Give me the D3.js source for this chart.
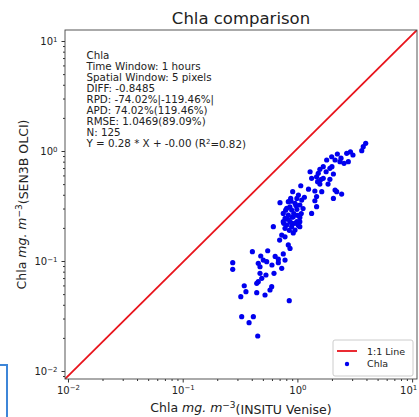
<!DOCTYPE html>
<html lang="en">

<head>
    <meta charset="utf-8" />
    <title>Chla comparison</title>
    <script src="https://cdn.jsdelivr.net/npm/d3@7"></script>
    <style>
        body { margin: 0; background: #fff; }
        text { font-family: "DejaVu Sans", sans-serif; fill: #222; }
    </style>
</head>

<body>
    <div id='chart'></div>
</body>
<script>

    // values (INSITU Venise vs SEN3B OLCI, mg.m-3)
    let insituChla = [
        3.94, 3.75, 3.64, 3.05, 2.69, 2.23, 1.99, 1.80, 2.13, 2.35,
        2.78, 2.55, 1.68, 1.92, 1.57, 1.78, 1.29, 1.52, 2.06, 1.47,
        1.68, 1.92, 1.50, 1.33, 1.57, 1.07, 1.42, 1.63, 2.13, 2.20,
        2.43, 0.91, 1.02, 1.47, 2.06, 0.99, 0.874, 1.09, 1.42, 0.705,
        0.833, 0.953, 1.05, 1.47, 0.807, 0.891, 0.99, 1.33, 0.753, 0.833,
        0.92, 1.05, 0.78, 0.862, 0.99, 0.617, 0.807, 0.891, 1.05, 0.753,
        0.891, 1.05, 0.78, 0.953, 0.73, 0.78, 0.833, 0.862, 0.405, 0.551,
        0.479, 0.753, 0.504, 0.682, 0.78, 0.456, 0.54, 0.682, 0.273, 0.273,
        0.472, 0.73, 0.472, 0.532, 0.625, 0.489, 0.456, 0.442, 0.344, 0.597,
        0.577, 0.356, 0.442, 0.522, 0.321, 0.849, 0.327, 0.413, 0.379, 0.451,
        0.86, 0.93, 1.00, 0.82, 0.95, 0.88, 1.12, 0.97, 0.79, 0.90,
        1.08, 0.85, 0.92, 1.02, 0.76, 1.25, 1.60, 2.00, 2.40, 1.85,
        1.15, 0.70, 0.64, 0.60, 2.90
    ];
    let sen3bChla = [
        1.175, 1.094, 1.006, 0.92, 0.953, 0.939, 0.887, 0.828, 0.828, 0.80,
        0.80, 0.773, 0.72, 0.696, 0.682, 0.648, 0.648, 0.627, 0.618, 0.583,
        0.565, 0.553, 0.526, 0.565, 0.50, 0.483, 0.433, 0.427, 0.442, 0.427,
        0.406, 0.427, 0.398, 0.385, 0.371, 0.371, 0.371, 0.358, 0.353, 0.339,
        0.346, 0.335, 0.323, 0.312, 0.301, 0.291, 0.295, 0.271, 0.271, 0.262,
        0.253, 0.249, 0.244, 0.228, 0.228, 0.205, 0.212, 0.205, 0.205, 0.228,
        0.220, 0.228, 0.198, 0.191, 0.172, 0.166, 0.14, 0.130, 0.1215, 0.124,
        0.111, 0.116, 0.102, 0.104, 0.102, 0.0953, 0.0986, 0.0965, 0.0965, 0.084,
        0.0887, 0.0858, 0.0773, 0.0746, 0.0773, 0.0696, 0.0649, 0.0627, 0.0596, 0.0584,
        0.0545, 0.0526, 0.0515, 0.0491, 0.0474, 0.0436, 0.0312, 0.0312, 0.0275, 0.0208,
        0.31, 0.27, 0.26, 0.24, 0.22, 0.35, 0.30, 0.32, 0.29, 0.25,
        0.27, 0.19, 0.18, 0.21, 0.22, 0.45, 0.55, 0.72, 0.86, 0.50,
        0.38, 0.155, 0.11, 0.092, 0.98
    ];

    let xDomain = [0.00942, 11.03],
        yDomain = [0.00846, 12.59];
    let majorTicks = [0.01, 0.1, 1, 10],
        majorExp = ['\u22122', '\u22121', '0', '1'];

    let statLines = [
        'Chla',
        'Time Window: 1 hours',
        'Spatial Window: 5 pixels',
        'DIFF: -0.8485',
        'RPD: -74.02%|-119.46%|',
        'APD: 74.02%(119.46%)',
        'RMSE: 1.0469(89.09%)',
        'N: 125'
    ];

    let margin = { top: 30, bottom: 38, left: 65, right: 2 };
    let width = 419 - margin.left - margin.right,
        height = 417 - margin.top - margin.bottom;

    let svg = d3.select('#chart')
        .append('svg')
        .attr('width', 419)
        .attr('height', 417);

    let x = d3.scaleLog().domain(xDomain).range([0, width]);
    let y = d3.scaleLog().domain(yDomain).range([height, 0]);

    // minor ticks 2..9 per decade
    let minorTicks = [];
    [0.001, 0.01, 0.1, 1, 10].forEach(dec => {
        for (let k = 2; k <= 9; k++) minorTicks.push(dec * k);
    });
    let minorX = minorTicks.filter(v => v > xDomain[0] && v < xDomain[1]),
        minorY = minorTicks.filter(v => v > yDomain[0] && v < yDomain[1]);

    var g = svg.append('g')
        .attr('transform', 'translate(' + margin.left + ',' + margin.top + ')');

    function powLabels(sel) {
        sel.selectAll('.tick text').each(function (d, i) {
            let t = d3.select(this).text('');
            t.append('tspan').text('10');
            t.append('tspan')
                .attr('dy', '-0.45em')
                .attr('font-size', '7px')
                .text(majorExp[majorTicks.indexOf(d)]);
        });
        sel.selectAll('.tick text')
            .style('font-family', '"DejaVu Sans", sans-serif')
            .attr('fill', '#333')
            .attr('font-size', '10px');
        sel.select('.domain').remove();
        sel.selectAll('.tick line').attr('stroke', '#333');
    }

    var gx = g.append('g')
        .attr('transform', 'translate(0,' + height + ')')
        .call(d3.axisBottom(x).tickValues(majorTicks).tickSize(3.5).tickPadding(4).tickFormat(''))
        .call(powLabels);
    // last label sits against the right edge of the picture
    gx.selectAll('.tick text').filter(d => d === 10).attr('dx', -4);
    g.append('g')
        .attr('transform', 'translate(0,' + height + ')')
        .call(d3.axisBottom(x).tickValues(minorX).tickSize(2).tickFormat(''))
        .call(s => { s.select('.domain').remove(); s.selectAll('line').attr('stroke', '#333'); });

    var gy = g.append('g')
        .call(d3.axisLeft(y).tickValues(majorTicks).tickSize(3.5).tickPadding(4).tickFormat(''))
        .call(powLabels);
    g.append('g')
        .call(d3.axisLeft(y).tickValues(minorY).tickSize(2).tickFormat(''))
        .call(s => { s.select('.domain').remove(); s.selectAll('line').attr('stroke', '#333'); });

    g.append('clipPath').attr('id', 'clip')
        .append('rect').attr('width', width).attr('height', height);

    // 1:1 line, corner to corner of the axes
    g.append('line')
        .attr('clip-path', 'url(#clip)')
        .attr('x1', x(xDomain[0])).attr('y1', y(yDomain[0]))
        .attr('x2', x(xDomain[1])).attr('y2', y(yDomain[1]))
        .attr('stroke', '#e8141c')
        .attr('stroke-width', 1.8);

    g.selectAll('.dot')
        .data(insituChla.map((v, i) => ({ x: v, y: sen3bChla[i] })))
        .enter().append('circle')
        .attr('class', 'dot')
        .attr('r', 2.6)
        .attr('cx', d => x(d.x))
        .attr('cy', d => y(d.y))
        .style('fill', '#0000ee');

    // frame
    g.append('rect')
        .attr('width', width).attr('height', height)
        .attr('fill', 'none')
        .attr('stroke', '#444')
        .attr('stroke-width', 0.9);

    // stats text
    var stats = g.append('text')
        .attr('font-size', '10.3px')
        .attr('fill', '#222');
    statLines.forEach((s, i) => {
        stats.append('tspan').attr('x', 21.5).attr('y', 29 + i * 11).text(s);
    });
    stats.append('tspan').attr('x', 21.5).attr('y', 29 + 8 * 11).text('Y = 0.28 * X + -0.00 (R');
    stats.append('tspan').attr('dy', '-0.4em').attr('font-size', '7px').text('2');
    stats.append('tspan').attr('dy', '0.4em').text('=0.82)');

    // legend
    var lg = g.append('g').attr('transform', 'translate(' + (width - 84) + ',' + (height - 39) + ')');
    lg.append('rect')
        .attr('width', 80).attr('height', 36).attr('rx', 2)
        .attr('fill', '#fff').attr('fill-opacity', 0.8)
        .attr('stroke', '#ccc');
    lg.append('line')
        .attr('x1', 4).attr('x2', 24).attr('y1', 11).attr('y2', 11)
        .attr('stroke', '#e8141c').attr('stroke-width', 1.8);
    lg.append('text').attr('x', 34).attr('y', 14.5).attr('font-size', '9.5px').text('1:1 Line');
    lg.append('circle').attr('cx', 14).attr('cy', 24).attr('r', 2.2).style('fill', '#0000ee');
    lg.append('text').attr('x', 34).attr('y', 27).attr('font-size', '9.5px').text('Chla');

    // title
    svg.append('text')
        .attr('x', margin.left + width / 2)
        .attr('y', 24)
        .attr('text-anchor', 'middle')
        .attr('font-size', '16.5px')
        .text('Chla comparison');

    // axis labels
    var xl = svg.append('text')
        .attr('x', margin.left + width / 2)
        .attr('y', 412)
        .attr('text-anchor', 'middle')
        .attr('font-size', '12.5px');
    xl.append('tspan').text('Chla ');
    xl.append('tspan').attr('font-style', 'italic').text('mg. m');
    xl.append('tspan').attr('dy', '-0.45em').attr('font-size', '9px').text('\u22123');
    xl.append('tspan').attr('dy', '0.45em').text('(INSITU Venise)');

    var yl = svg.append('text')
        .attr('transform', 'translate(26,' + (margin.top + height / 2) + ') rotate(-90)')
        .attr('text-anchor', 'middle')
        .attr('font-size', '12.5px');
    yl.append('tspan').text('Chla ');
    yl.append('tspan').attr('font-style', 'italic').text('mg. m');
    yl.append('tspan').attr('dy', '-0.45em').attr('font-size', '9px').text('\u22123');
    yl.append('tspan').attr('dy', '0.45em').text('(SEN3B OLCI)');

    // blue corner left over from the screenshot
    svg.append('path')
        .attr('d', 'M0,365 H7 V417')
        .attr('fill', 'none')
        .attr('stroke', '#3d86d8')
        .attr('stroke-width', 2);

</script>

</html>
